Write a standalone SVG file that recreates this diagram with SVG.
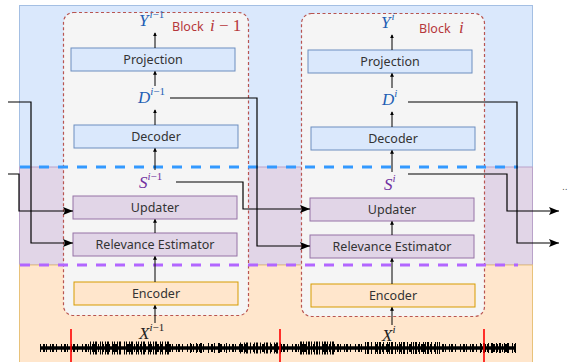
<svg xmlns="http://www.w3.org/2000/svg" width="574" height="362" viewBox="0 0 574 362">
<defs>
<style>
.lbl{font-family:"Noto Sans","DejaVu Sans",sans-serif;font-size:12.5px;fill:#333;text-anchor:middle}
.math{font-family:"Liberation Serif",serif;font-style:italic;font-size:17px}
.sup{font-size:11px}
.up{font-style:normal}
.blue{fill:#dae8fc;stroke:#6c8ebf;stroke-width:1}
.purp{fill:#e1d5e7;stroke:#9673a6;stroke-width:1}
.orng{fill:#ffe6cc;stroke:#d79b00;stroke-width:1}
.blk{fill:#f5f5f5;stroke:#b85450;stroke-width:1.2;stroke-dasharray:3 2.5}
.ia{stroke:#000;stroke-width:1;fill:none;marker-end:url(#sa)}
.con{stroke:#000;stroke-width:1.2;fill:none;marker-end:url(#la)}
</style>
<marker id="sa" viewBox="0 0 6 6" refX="5" refY="3" markerWidth="4" markerHeight="4" markerUnits="userSpaceOnUse" orient="auto"><path d="M0 0L6 3L0 6z" fill="#000"/></marker>
<marker id="la" viewBox="0 0 10 8" refX="10" refY="4" markerWidth="10" markerHeight="8" markerUnits="userSpaceOnUse" orient="auto"><path d="M0 0L10 4L0 8L2 4z" fill="#000"/></marker>
</defs>

<g id="regions">
<rect x="19.5" y="5.5" width="513" height="162" fill="#dae8fc" stroke="#a4bfe3"/>
<rect x="19.5" y="167" width="513" height="98" fill="#e1d5e7" stroke="#b9a2c9"/>
<rect x="19.5" y="265" width="513" height="100" fill="#ffe6cc" stroke="#e8c27a"/>
</g>

<g id="block1">
<rect class="blk" x="63.5" y="12.5" width="185" height="303" rx="10"/>
</g>
<g id="block2">
<rect class="blk" x="301.5" y="13.5" width="183" height="303" rx="10"/>
</g>

<g id="separators">
<line x1="20" y1="167" x2="518" y2="167" stroke="#3399ff" stroke-width="3" stroke-dasharray="10 9"/>
<line x1="20" y1="265" x2="518" y2="265" stroke="#b266ff" stroke-width="3" stroke-dasharray="10 9"/>
</g>

<g id="proj1"><rect class="blue" x="71" y="48" width="164" height="23"/><text class="lbl" x="153" y="64">Projection</text></g>
<g id="dec1"><rect class="blue" x="74" y="125" width="164" height="23"/><text class="lbl" x="156" y="141">Decoder</text></g>
<g id="upd1"><rect class="purp" x="73" y="196" width="164" height="23"/><text class="lbl" x="155" y="212">Updater</text></g>
<g id="rel1"><rect class="purp" x="73" y="233" width="164" height="23"/><text class="lbl" x="155" y="249">Relevance Estimator</text></g>
<g id="enc1"><rect class="orng" x="74" y="282" width="164" height="23"/><text class="lbl" x="156" y="298">Encoder</text></g>

<g id="proj2"><rect class="blue" x="308" y="50" width="164" height="23"/><text class="lbl" x="390" y="66">Projection</text></g>
<g id="dec2"><rect class="blue" x="311" y="127" width="164" height="23"/><text class="lbl" x="393" y="143">Decoder</text></g>
<g id="upd2"><rect class="purp" x="310" y="198" width="164" height="23"/><text class="lbl" x="392" y="214">Updater</text></g>
<g id="rel2"><rect class="purp" x="310" y="235" width="164" height="23"/><text class="lbl" x="392" y="251">Relevance Estimator</text></g>
<g id="enc2"><rect class="orng" x="311" y="284" width="164" height="23"/><text class="lbl" x="393" y="300">Encoder</text></g>

<g id="labels">
<text class="math" x="139" y="26" fill="#1f5fb4">Y<tspan class="sup" dy="-8" dx="1">i<tspan class="up">−1</tspan></tspan></text>
<text x="172" y="31" fill="#b5373b" font-family="Noto Sans, DejaVu Sans, sans-serif" font-size="12.5">Block</text>
<text class="math" x="210" y="31" fill="#b5373b" font-size="15">i <tspan class="up">− 1</tspan></text>
<text class="math" x="138" y="103" fill="#1f5fb4">D<tspan class="sup" dy="-8">i<tspan class="up">−1</tspan></tspan></text>
<text class="math" x="139" y="188" fill="#7030a0">S<tspan class="sup" dy="-8">i<tspan class="up">−1</tspan></tspan></text>
<text class="math" x="139" y="339" fill="#222">X<tspan class="sup" dy="-8">i<tspan class="up">−1</tspan></tspan></text>

<text class="math" x="381" y="28" fill="#1f5fb4">Y<tspan class="sup" dy="-8" dx="1">i</tspan></text>
<text x="419" y="33" fill="#b5373b" font-family="Noto Sans, DejaVu Sans, sans-serif" font-size="12.5">Block</text>
<text class="math" x="459" y="33" fill="#b5373b" font-size="15">i</text>
<text class="math" x="382" y="105" fill="#1f5fb4">D<tspan class="sup" dy="-8">i</tspan></text>
<text class="math" x="384" y="190" fill="#7030a0">S<tspan class="sup" dy="-8">i</tspan></text>
<text class="math" x="382" y="341" fill="#222">X<tspan class="sup" dy="-8">i</tspan></text>
<text x="562" y="190" fill="#555" font-family="DejaVu Sans, sans-serif" font-size="9">..</text>
</g>

<g id="connectors">
<line class="ia" x1="155" y1="48" x2="155" y2="33"/>
<line class="ia" x1="155" y1="86" x2="155" y2="71.5"/>
<line class="ia" x1="155" y1="125" x2="155" y2="110"/>
<line class="ia" x1="155" y1="170" x2="155" y2="148.5"/>
<line class="ia" x1="155" y1="233" x2="155" y2="219.5"/>
<line class="ia" x1="155" y1="282" x2="155" y2="256.5"/>
<line class="ia" x1="155" y1="323" x2="155" y2="305.5"/>

<line class="ia" x1="392" y1="50" x2="392" y2="35"/>
<line class="ia" x1="392" y1="88" x2="392" y2="73.5"/>
<line class="ia" x1="392" y1="127" x2="392" y2="112"/>
<line class="ia" x1="392" y1="172" x2="392" y2="150.5"/>
<line class="ia" x1="392" y1="235" x2="392" y2="221.5"/>
<line class="ia" x1="392" y1="284" x2="392" y2="258.5"/>
<line class="ia" x1="392" y1="325" x2="392" y2="307.5"/>

<path class="con" d="M8 102H31V243H73"/>
<path class="con" d="M8 174H19V211H73"/>
<path class="con" d="M170 98H257V246H310"/>
<path class="con" d="M176 182H243V209H310"/>
<path class="con" d="M408 102H517V243H559"/>
<path class="con" d="M408 174H507V211H559"/>
</g>

<g id="waveform" stroke="#000" fill="none">
<line x1="40" y1="348" x2="516" y2="348" stroke-width="3.5"/>
<line x1="40" y1="348" x2="516" y2="348" stroke-width="8" stroke-dasharray="1 2 2 1 1 3 1 1 2 2 1 4"/>
<line x1="90" y1="348" x2="170" y2="348" stroke-width="13" stroke-dasharray="1 2 1 1 2 3 1 1"/>
<line x1="240" y1="348" x2="282" y2="348" stroke-width="11" stroke-dasharray="1 3 1 1 2 2"/>
<line x1="300" y1="348" x2="335" y2="348" stroke-width="13" stroke-dasharray="2 1 1 2 1 1"/>
<line x1="365" y1="348" x2="440" y2="348" stroke-width="12" stroke-dasharray="1 1 2 2 1 3 1 1"/>
<line x1="190" y1="348" x2="230" y2="348" stroke-width="10" stroke-dasharray="1 5 1 3 2 6"/>
<line x1="480" y1="348" x2="516" y2="348" stroke-width="10" stroke-dasharray="1 2 2 3"/>
</g>

<g id="cuts" stroke="#ff0000" stroke-width="1.6">
<line x1="71" y1="329" x2="71" y2="362"/>
<line x1="280" y1="329" x2="280" y2="362"/>
<line x1="484" y1="329" x2="484" y2="362"/>
</g>
</svg>
